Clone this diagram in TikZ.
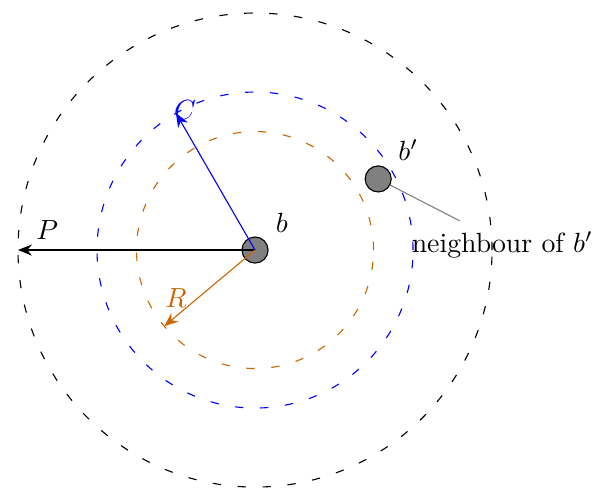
\documentclass[tikz,border=0pt]{standalone}
\usetikzlibrary{arrows.meta}
\definecolor{myorange}{RGB}{204,102,0}
\begin{document}
\begin{tikzpicture}[
  ball/.style={circle,draw=black,fill=gray,minimum size=0.33cm,inner sep=0pt},
  ring/.style={loosely dashed},
  arr/.style={-{Stealth[length=5pt,width=4pt]}}
]
\useasboundingbox (-3.228,-3.025) rectangle (4.303,3.165);
\draw[ring] (0,0) circle (3);
\draw[ring,blue] (0,0) circle (2);
\draw[ring,myorange] (0,0) circle (1.5);
\coordinate (pend) at (180:3);
\coordinate (cend) at (120:2);
\coordinate (rend) at (220:1.5);
\coordinate (nend) at (2.59,0.37);
\node[ball] (b) at (0,0) {};
\node[ball] (bp) at (30:1.8) {};
\draw[arr] (b.center) -- (pend);
\draw[arr,blue] (b.center) -- (cend);
\draw[arr,myorange] (b.center) -- (rend);
\draw[gray] (bp) -- (nend);
\node (bl) at (0.34,0.35) {$b$};
\node (bpl) at (1.94,1.26) {$b'$};
\node (pl) at (-2.63,0.25) {$P$};
\node[blue] (cl) at (-0.886,1.77) {$C$};
\node[myorange] (rl) at (-1.0,-0.61) {$R$};
\node (nl) at (3.13,0.06) {neighbour of $b'$};
\end{tikzpicture}
\end{document}
